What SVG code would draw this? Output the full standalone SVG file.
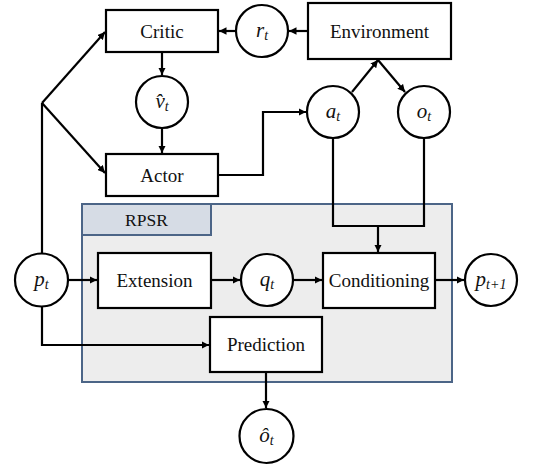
<svg xmlns="http://www.w3.org/2000/svg" width="551" height="470" viewBox="0 0 551 470">
<defs>
<marker id="ah" viewBox="0 0 10 10" refX="10" refY="5" markerUnits="userSpaceOnUse" markerWidth="7.5" markerHeight="7.5" orient="auto">
<path d="M0,0 L10,5 L0,10 z" fill="#000"/>
</marker>
</defs>
<style>
.box{fill:#fff;stroke:#000;stroke-width:2.2}
.circ{fill:#fff;stroke:#000;stroke-width:2.2}
.lbl{font-family:"Liberation Serif","DejaVu Serif",serif;font-size:19px;fill:#111;text-anchor:middle;dominant-baseline:central}
.math{font-family:"Liberation Serif","DejaVu Serif",serif;font-style:italic;font-size:21px;fill:#111;text-anchor:middle;dominant-baseline:central}
.sub{font-size:14px}
.conn path,.conn line{fill:none;stroke:#000;stroke-width:2.2}
.arr{marker-end:url(#ah)}
</style>
<rect width="551" height="470" fill="#fff"/>
<g id="rpsr">
<rect x="82" y="204" width="370" height="178" fill="#ededed" stroke="#4c6587" stroke-width="2"/>
<rect x="82" y="204" width="129" height="31" fill="#d6dce5" stroke="#4c6587" stroke-width="2"/>
<text class="lbl" x="146.5" y="220" style="font-size:17.5px">RPSR</text>
</g>
<g class="conn" id="connectors">
<line class="arr" x1="308" y1="31" x2="289" y2="31"/>
<line class="arr" x1="236" y1="31" x2="219" y2="31"/>
<line class="arr" x1="162" y1="52" x2="162" y2="75"/>
<line class="arr" x1="162" y1="129" x2="162" y2="153"/>
<path d="M42,253 L42,103"/>
<line class="arr" x1="42" y1="103" x2="105" y2="32"/>
<line class="arr" x1="42" y1="103" x2="105" y2="173"/>
<path class="arr" d="M218,175 L263,175 L263,112 L306,112"/>
<line class="arr" x1="352" y1="92" x2="378" y2="60"/>
<line class="arr" x1="378" y1="60" x2="405" y2="92"/>
<path d="M333,138 L333,226 L424,226 L424,139"/>
<line class="arr" x1="378" y1="226" x2="378" y2="252"/>
<line class="arr" x1="68" y1="280" x2="97" y2="280"/>
<line class="arr" x1="211" y1="280" x2="240" y2="280"/>
<line class="arr" x1="293" y1="280" x2="322" y2="280"/>
<line class="arr" x1="435" y1="280" x2="464" y2="280"/>
<path class="arr" d="M42,307 L42,345 L209,345"/>
<line class="arr" x1="266" y1="372" x2="266" y2="408"/>
</g>
<g id="critic"><rect class="box" x="106" y="10" width="112" height="42"/><text class="lbl" x="162" y="31">Critic</text></g>
<g id="r_t"><circle class="circ" cx="262" cy="31" r="26"/><text class="math" x="262" y="30">r<tspan class="sub" dy="5">t</tspan></text></g>
<g id="environment"><rect class="box" x="308" y="3" width="143" height="56"/><text class="lbl" x="379.5" y="31">Environment</text></g>
<g id="v_hat"><circle class="circ" cx="162" cy="102" r="26"/><text class="math" x="162" y="101">v̂<tspan class="sub" dy="5">t</tspan></text></g>
<g id="actor"><rect class="box" x="106" y="154" width="112" height="42"/><text class="lbl" x="162" y="175">Actor</text></g>
<g id="a_t"><circle class="circ" cx="333" cy="112" r="26"/><text class="math" x="333" y="111">a<tspan class="sub" dy="5">t</tspan></text></g>
<g id="o_t"><circle class="circ" cx="424" cy="112" r="26"/><text class="math" x="424" y="111">o<tspan class="sub" dy="5">t</tspan></text></g>
<g id="p_t"><circle class="circ" cx="41.5" cy="280" r="26.5"/><text class="math" x="41.5" y="279">p<tspan class="sub" dy="5">t</tspan></text></g>
<g id="extension"><rect class="box" x="98" y="253" width="113" height="55"/><text class="lbl" x="154.5" y="280">Extension</text></g>
<g id="q_t"><circle class="circ" cx="267" cy="280" r="26"/><text class="math" x="267" y="279">q<tspan class="sub" dy="5">t</tspan></text></g>
<g id="conditioning"><rect class="box" x="323" y="253" width="112" height="55"/><text class="lbl" x="379" y="280">Conditioning</text></g>
<g id="p_t1"><circle class="circ" cx="491" cy="280" r="26"/><text class="math" x="491" y="279">p<tspan class="sub" dy="5">t+1</tspan></text></g>
<g id="prediction"><rect class="box" x="210" y="317" width="112" height="55"/><text class="lbl" x="266" y="344.5">Prediction</text></g>
<g id="o_hat"><circle class="circ" cx="266.5" cy="436" r="27"/><text class="math" x="266.5" y="435">ô<tspan class="sub" dy="5">t</tspan></text></g>
</svg>
